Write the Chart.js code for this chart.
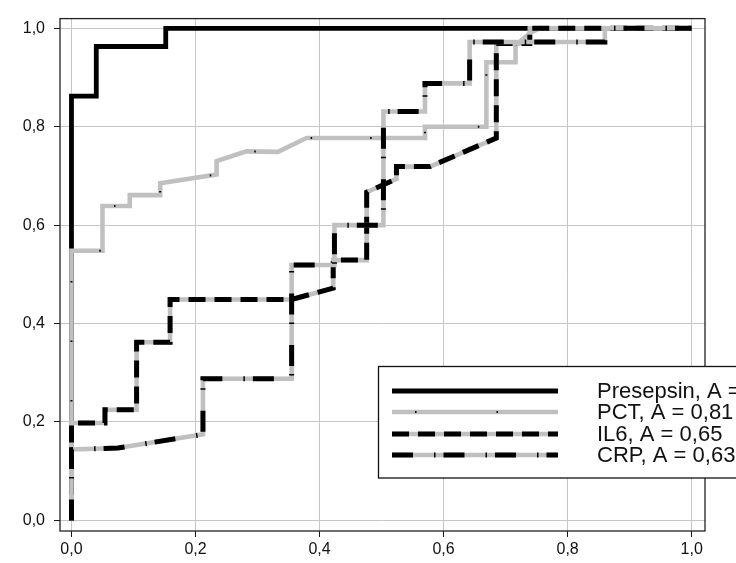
<!DOCTYPE html>
<html>
<head>
<meta charset="utf-8">
<script src="https://cdn.jsdelivr.net/npm/chart.js@4.4.1/dist/chart.umd.min.js"></script>
<style>
  html, body { margin: 0; padding: 0; background: #fff; overflow: hidden; }
  canvas { display: block; }
</style>
</head>
<body>
<canvas id="roc" width="736" height="563"></canvas>
<script>
// ROC curves: false positive rate (x) against true positive rate (y)
const presepsinFpr = [0, 0, 0.040, 0.040, 0.152, 0.152, 1];
const presepsinTpr = [0, 0.862, 0.862, 0.963, 0.963, 1, 1];

const pctFpr = [0, 0, 0.050, 0.050, 0.094, 0.094, 0.143, 0.143, 0.234, 0.234, 0.282, 0.333, 0.379, 0.570, 0.570, 0.669, 0.669, 0.716, 0.716, 0.739, 0.755, 1];
const pctTpr = [0, 0.548, 0.548, 0.639, 0.639, 0.661, 0.661, 0.685, 0.703, 0.730, 0.750, 0.749, 0.777, 0.777, 0.800, 0.800, 0.931, 0.931, 0.965, 0.990, 1, 1];

const il6Fpr = [0, 0, 0.054, 0.054, 0.105, 0.105, 0.159, 0.159, 0.355, 0.422, 0.422, 0.476, 0.476, 0.524, 0.524, 0.578, 0.685, 0.685, 0.739, 0.739, 1];
const il6Tpr = [0, 0.198, 0.198, 0.225, 0.225, 0.362, 0.362, 0.449, 0.449, 0.472, 0.529, 0.529, 0.667, 0.694, 0.719, 0.719, 0.777, 0.969, 0.969, 1, 1];

const crpFpr = [0, 0, 0.075, 0.212, 0.212, 0.355, 0.355, 0.424, 0.424, 0.503, 0.503, 0.570, 0.570, 0.642, 0.642, 0.860, 0.860, 1];
const crpTpr = [0, 0.144, 0.147, 0.175, 0.288, 0.288, 0.519, 0.519, 0.600, 0.600, 0.831, 0.831, 0.888, 0.888, 0.972, 0.972, 1, 1];

const seriesNames = ['Presepsin', 'PCT', 'IL6', 'CRP'];
const aucLabels = ['0,99', '0,81', '0,65', '0,63'];

const tickValues = [0, 0.2, 0.4, 0.6, 0.8, 1.0];
const tickLabels = ['0,0', '0,2', '0,4', '0,6', '0,8', '1,0'];

const INK = '#000000';
const GREY = '#c0c0c0';
const FONT = '"Liberation Sans", Arial, sans-serif';

// line looks: an optional grey base stroke with a black pattern on top
const looks = {
  Presepsin: { base: null, ink: { width: 4.8, dash: [] } },
  PCT:       { base: 4.6,  ink: { width: 2,   dash: [1.5, 58] } },
  IL6:       { base: 4.6,  ink: { width: 5,   dash: [17, 9] } },
  CRP:       { base: 4.6,  ink: { width: 5,   dash: [21, 21, 1.5, 8] } }
};

const toPoints = (xs, ys) => xs.map((x, i) => ({ x: x, y: ys[i] }));
const seriesPoints = {
  Presepsin: toPoints(presepsinFpr, presepsinTpr),
  PCT: toPoints(pctFpr, pctTpr),
  IL6: toPoints(il6Fpr, il6Tpr),
  CRP: toPoints(crpFpr, crpTpr)
};

// Presepsin sits at the bottom of the stack, CRP on top
const datasets = [];
let order = 20;
seriesNames.forEach(name => {
  const look = looks[name];
  if (look.base) {
    datasets.push({
      label: name + ' base', data: seriesPoints[name], order: order--,
      borderColor: GREY, borderWidth: look.base, borderDash: [],
      fill: false, pointRadius: 0, tension: 0
    });
  }
  datasets.push({
    label: name, data: seriesPoints[name], order: order--,
    borderColor: INK, borderWidth: look.ink.width, borderDash: look.ink.dash,
    fill: false, pointRadius: 0, tension: 0
  });
});

const labelFor = v => {
  const i = tickValues.findIndex(t => Math.abs(t - v) < 1e-9);
  return i >= 0 ? tickLabels[i] : '';
};

const gridOpts = { color: '#c6c6c6', lineWidth: 1, tickColor: '#1a1a1a', tickLength: 6, tickWidth: 1 };

// outer frame around the plotting area
const framePlugin = {
  id: 'frame',
  afterDatasetsDraw(chart) {
    const { ctx, chartArea: a } = chart;
    ctx.save();
    ctx.strokeStyle = '#222';
    ctx.lineWidth = 1.3;
    ctx.strokeRect(a.left, a.top, a.right - a.left, a.bottom - a.top);
    ctx.restore();
  }
};

// boxed key in the lower right corner
const keyPlugin = {
  id: 'keyBox',
  afterDraw(chart) {
    const ctx = chart.ctx;
    const box = { x: 378.5, y: 366.5, w: 420, h: 111.5 };
    const rows = [391, 412, 434, 455];
    const lineX0 = 392, lineX1 = 558, textX = 597;
    ctx.save();
    ctx.fillStyle = '#fff';
    ctx.fillRect(box.x, box.y, box.w, box.h);
    ctx.strokeStyle = '#111';
    ctx.lineWidth = 1.3;
    ctx.strokeRect(box.x, box.y, box.w, box.h);
    seriesNames.forEach((name, i) => {
      const look = looks[name];
      const y = rows[i];
      ctx.lineCap = 'butt';
      if (look.base) {
        ctx.setLineDash([]);
        ctx.strokeStyle = GREY;
        ctx.lineWidth = look.base;
        ctx.beginPath(); ctx.moveTo(lineX0, y); ctx.lineTo(lineX1, y); ctx.stroke();
      }
      ctx.setLineDash(name === 'PCT' ? [1.5, 80] : look.ink.dash);
      ctx.lineDashOffset = name === 'PCT' ? -23 : 0;
      ctx.strokeStyle = INK;
      ctx.lineWidth = look.ink.width;
      ctx.beginPath(); ctx.moveTo(lineX0, y); ctx.lineTo(lineX1, y); ctx.stroke();
      ctx.setLineDash([]);
      ctx.lineDashOffset = 0;
      ctx.fillStyle = '#111';
      ctx.font = '22px ' + FONT;
      ctx.textBaseline = 'middle';
      ctx.textAlign = 'left';
      ctx.fillText(name + ', A = ' + aucLabels[i], textX, y + 1);
    });
    ctx.restore();
  }
};

new Chart(document.getElementById('roc'), {
  type: 'line',
  data: { datasets: datasets },
  options: {
    responsive: false,
    animation: false,
    layout: { padding: { left: 0, right: 31, top: 13, bottom: 0 } },
    plugins: { legend: { display: false }, tooltip: { enabled: false } },
    elements: { line: { borderCapStyle: 'butt', borderJoinStyle: 'miter' } },
    scales: {
      x: {
        type: 'linear', min: -0.0185, max: 1.0215,
        afterBuildTicks: s => { s.ticks = tickValues.map(v => ({ value: v })); },
        afterFit: s => { s.height = 32; },
        grid: gridOpts,
        border: { display: false },
        ticks: { font: { family: FONT, size: 16 }, color: '#111', padding: 3, maxRotation: 0, autoSkip: false, callback: labelFor }
      },
      y: {
        type: 'linear', min: -0.0215, max: 1.0197,
        afterBuildTicks: s => { s.ticks = tickValues.map(v => ({ value: v })); },
        afterFit: s => { s.width = 60; },
        grid: gridOpts,
        border: { display: false },
        ticks: { font: { family: FONT, size: 16 }, color: '#111', padding: 9, autoSkip: false, callback: labelFor }
      }
    }
  },
  plugins: [framePlugin, keyPlugin]
});
</script>
</body>
</html>
